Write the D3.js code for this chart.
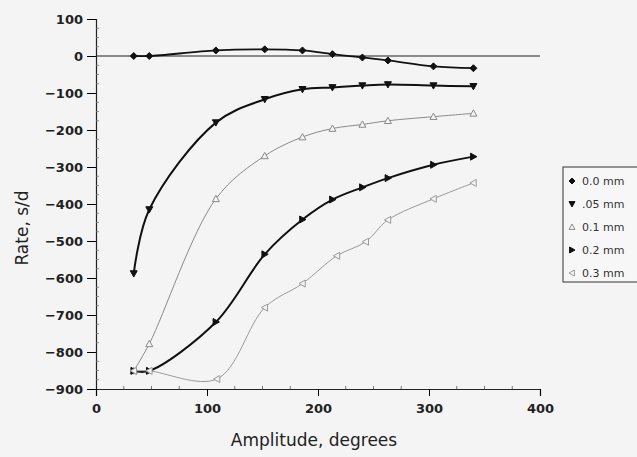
<!DOCTYPE html>
<html>
<head>
<meta charset="utf-8">
<script src="https://cdn.jsdelivr.net/npm/d3@7"></script>
<style>
  body { margin: 0; background: #f4f4f4; }
  svg { display: block; }
</style>
</head>
<body>
<svg id="chart_svg"></svg>
<script>
// values
var amplitude = [34, 48, 108, 152, 186, 213, 240, 263, 304, 340];
var amplitude03 = [34, 48, 109, 152, 186, 217, 243, 263, 304, 340];
var rate00 = [0, 0, 15, 18, 15, 5, -4, -12, -28, -33];
var rate05 = [-588, -415, -180, -117, -90, -85, -80, -77, -80, -82];
var rate10 = [-851, -778, -386, -270, -219, -196, -185, -175, -164, -155];
var rate20 = [-851, -851, -719, -536, -442, -388, -355, -330, -294, -272];
var rate30 = [-851, -851, -873, -680, -615, -540, -502, -443, -386, -343];
var seriesNames = ["0.0 mm", ".05 mm", "0.1 mm", "0.2 mm", "0.3 mm"];
var xTicks = [0, 100, 200, 300, 400];
var yTicks = [100, 0, -100, -200, -300, -400, -500, -600, -700, -800, -900];

var width = 637, height = 457;
var svg = d3.select("#chart_svg").attr("width", width).attr("height", height);

var x = d3.scaleLinear().domain([0, 400]).range([96, 540]);
var y = d3.scaleLinear().domain([-900, 100]).range([389, 19]);

var series = [
    {name: seriesNames[0], xs: amplitude, ys: rate00, color: "#111", width: 1.8, shape: "diamond", fill: true},
    {name: seriesNames[1], xs: amplitude, ys: rate05, color: "#111", width: 2, shape: "down", fill: true},
    {name: seriesNames[2], xs: amplitude, ys: rate10, color: "#8a8a8a", width: 1, shape: "up", fill: false},
    {name: seriesNames[3], xs: amplitude, ys: rate20, color: "#111", width: 2, shape: "right", fill: true},
    {name: seriesNames[4], xs: amplitude03, ys: rate30, color: "#9a9a9a", width: 1, shape: "left", fill: false}
];

function markerPath(shape, s) {
    if (shape == "diamond") return "M0," + (-s) + "L" + s + ",0L0," + s + "L" + (-s) + ",0Z";
    if (shape == "down") return "M" + (-s) + "," + (-s * 0.8) + "L" + s + "," + (-s * 0.8) + "L0," + s + "Z";
    if (shape == "up") return "M" + (-s) + "," + (s * 0.8) + "L" + s + "," + (s * 0.8) + "L0," + (-s) + "Z";
    if (shape == "right") return "M" + (-s * 0.8) + "," + (-s) + "L" + (-s * 0.8) + "," + s + "L" + s + ",0Z";
    return "M" + (s * 0.8) + "," + (-s) + "L" + (s * 0.8) + "," + s + "L" + (-s) + ",0Z";
}

var axisFont = "'DejaVu Sans', sans-serif";

/** Axes **/
var yAxis = svg.append("g")
    .attr("class", "y axis")
    .attr("transform", "translate(" + x(0) + ",0)")
    .call(d3.axisLeft(y).tickValues(yTicks).tickSize(9).tickPadding(4));
yAxis.select(".domain").attr("stroke", "#222").attr("stroke-width", 1.2);
yAxis.selectAll("text")
    .style("font-family", axisFont).style("font-weight", "bold")
    .style("font-size", "13px").attr("fill", "#222");

var xAxis = svg.append("g")
    .attr("class", "x axis")
    .attr("transform", "translate(0," + y(-900) + ")")
    .call(d3.axisBottom(x).tickValues(xTicks).tickSize(7).tickPadding(8));
xAxis.select(".domain").attr("stroke", "#222").attr("stroke-width", 1.2);
xAxis.selectAll("text")
    .style("font-family", axisFont).style("font-weight", "bold")
    .style("font-size", "13px").attr("fill", "#222");

// minor ticks
svg.append("g").selectAll("line")
    .data(d3.range(25, 400, 25).filter(function (d) { return d % 100 != 0; }))
    .enter().append("line")
    .attr("x1", function (d) { return x(d); })
    .attr("x2", function (d) { return x(d); })
    .attr("y1", y(-900))
    .attr("y2", y(-900) - 3)
    .attr("stroke", "#555").attr("stroke-width", 0.8);

svg.append("g").selectAll("line")
    .data(d3.range(-875, 100, 25).filter(function (d) { return d % 100 != 0; }))
    .enter().append("line")
    .attr("x1", x(0))
    .attr("x2", x(0) + 3)
    .attr("y1", function (d) { return y(d); })
    .attr("y2", function (d) { return y(d); })
    .attr("stroke", "#777").attr("stroke-width", 0.8);

// zero line
svg.append("line")
    .attr("x1", x(0)).attr("x2", x(400))
    .attr("y1", y(0)).attr("y2", y(0))
    .attr("stroke", "#222").attr("stroke-width", 1);

/** Series **/
var line = d3.line()
    .x(function (d) { return x(d[0]); })
    .y(function (d) { return y(d[1]); })
    .curve(d3.curveCatmullRom.alpha(0.5));

series.forEach(function (s) {
    var pts = s.xs.map(function (v, i) { return [v, s.ys[i]]; });
    var g = svg.append("g").attr("class", "series");
    g.append("path")
        .datum(pts)
        .attr("d", line)
        .attr("fill", "none")
        .attr("stroke", s.color)
        .attr("stroke-width", s.width);
    g.selectAll(".dot")
        .data(pts)
        .enter().append("path")
        .attr("class", "dot")
        .attr("transform", function (d) { return "translate(" + x(d[0]) + "," + y(d[1]) + ")"; })
        .attr("d", markerPath(s.shape, 3.5))
        .attr("fill", s.fill ? s.color : "#f4f4f4")
        .attr("stroke", s.color)
        .attr("stroke-width", 1);
});

/** Axis titles **/
svg.append("text")
    .attr("x", 314).attr("y", 446)
    .style("text-anchor", "middle")
    .style("font-family", axisFont)
    .style("font-size", "17px")
    .attr("fill", "#222")
    .text("Amplitude, degrees");

svg.append("text")
    .attr("transform", "translate(28,228) rotate(-90)")
    .style("text-anchor", "middle")
    .style("font-family", axisFont)
    .style("font-size", "17px")
    .attr("fill", "#222")
    .text("Rate, s/d");

/** Legend **/
var legend = svg.append("g").attr("transform", "translate(563,167)");
legend.append("rect")
    .attr("width", 80).attr("height", 115)
    .attr("fill", "#f7f7f7")
    .attr("stroke", "#333").attr("stroke-width", 1);
series.forEach(function (s, i) {
    var ly = 14 + i * 23;
    legend.append("path")
        .attr("transform", "translate(9," + ly + ")")
        .attr("d", markerPath(s.shape, 3))
        .attr("fill", s.fill ? s.color : "#f7f7f7")
        .attr("stroke", s.color).attr("stroke-width", 1);
    legend.append("text")
        .attr("x", 19).attr("y", ly + 4)
        .style("font-family", "'DejaVu Sans', sans-serif")
        .style("font-size", "11px")
        .attr("fill", "#333")
        .text(s.name);
});
</script>
</body>
</html>
